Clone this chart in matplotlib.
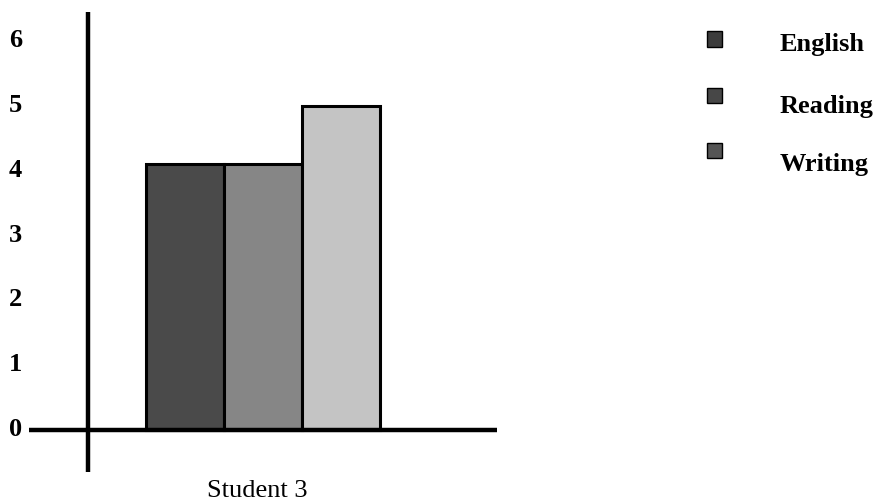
import matplotlib.pyplot as plt
import matplotlib.transforms as mtransforms
from matplotlib.patches import Rectangle

# data
subjects = ['English', 'Reading', 'Writing']
scores = [4.1, 4.1, 5.0]
student = 'Student 3'
yticks = [0, 1, 2, 3, 4, 5, 6]

bar_colors = ['#4a4a4a', '#868686', '#c4c4c4']
key_colors = ['#3c3c3c', '#474747', '#555555']

plt.rcParams['font.family'] = ['Liberation Serif', 'DejaVu Serif']

fig = plt.figure(figsize=(8.79, 5.04), dpi=100)
ax = fig.add_axes([29 / 879, 32 / 504, 468 / 879, 460 / 504])

x = [i for i in range(len(subjects))]
ax.bar(x, scores, width=1.0, color=bar_colors, edgecolor='black', linewidth=2.2, zorder=2)

# the hand-drawn looking axes
ax.axhline(0, color='black', linewidth=3.2, solid_capstyle='round', zorder=3)
ax.axvline(-1.244, color='black', linewidth=3.2, solid_capstyle='round', zorder=3)

ax.set_xlim(-2.0, 4.0)
ax.set_ylim(-0.648, 6.45)
for s in ax.spines.values():
    s.set_visible(False)

ax.set_yticks(yticks)
ax.set_yticklabels([str(t) for t in yticks], fontsize=19, fontweight='bold')
ax.tick_params(axis='y', length=0, pad=5)
shift = mtransforms.ScaledTranslation(0, 3 / 100, fig.dpi_scale_trans)
for lab in ax.get_yticklabels():
    lab.set_transform(lab.get_transform() + shift)

ax.set_xticks([x[1]])
ax.set_xticklabels([student], fontsize=19)
ax.tick_params(axis='x', length=0, pad=6)
shift_x = mtransforms.ScaledTranslation(-6 / 100, 0, fig.dpi_scale_trans)
for lab in ax.get_xticklabels():
    lab.set_transform(lab.get_transform() + shift_x)

# legend on the right
key_y = [39, 95, 150]
text_y = [45, 107, 164]
for name, col, ky, ty in zip(subjects, key_colors, key_y, text_y):
    fig.patches.append(Rectangle((707 / 879, 1 - (ky + 7.5) / 504), 15 / 879, 15 / 504,
                                 transform=fig.transFigure, facecolor=col,
                                 edgecolor='black', linewidth=1))
    fig.text(780 / 879, 1 - ty / 504, name, fontsize=19, fontweight='bold',
             va='center', ha='left')

plt.savefig('out.png', dpi=100)
